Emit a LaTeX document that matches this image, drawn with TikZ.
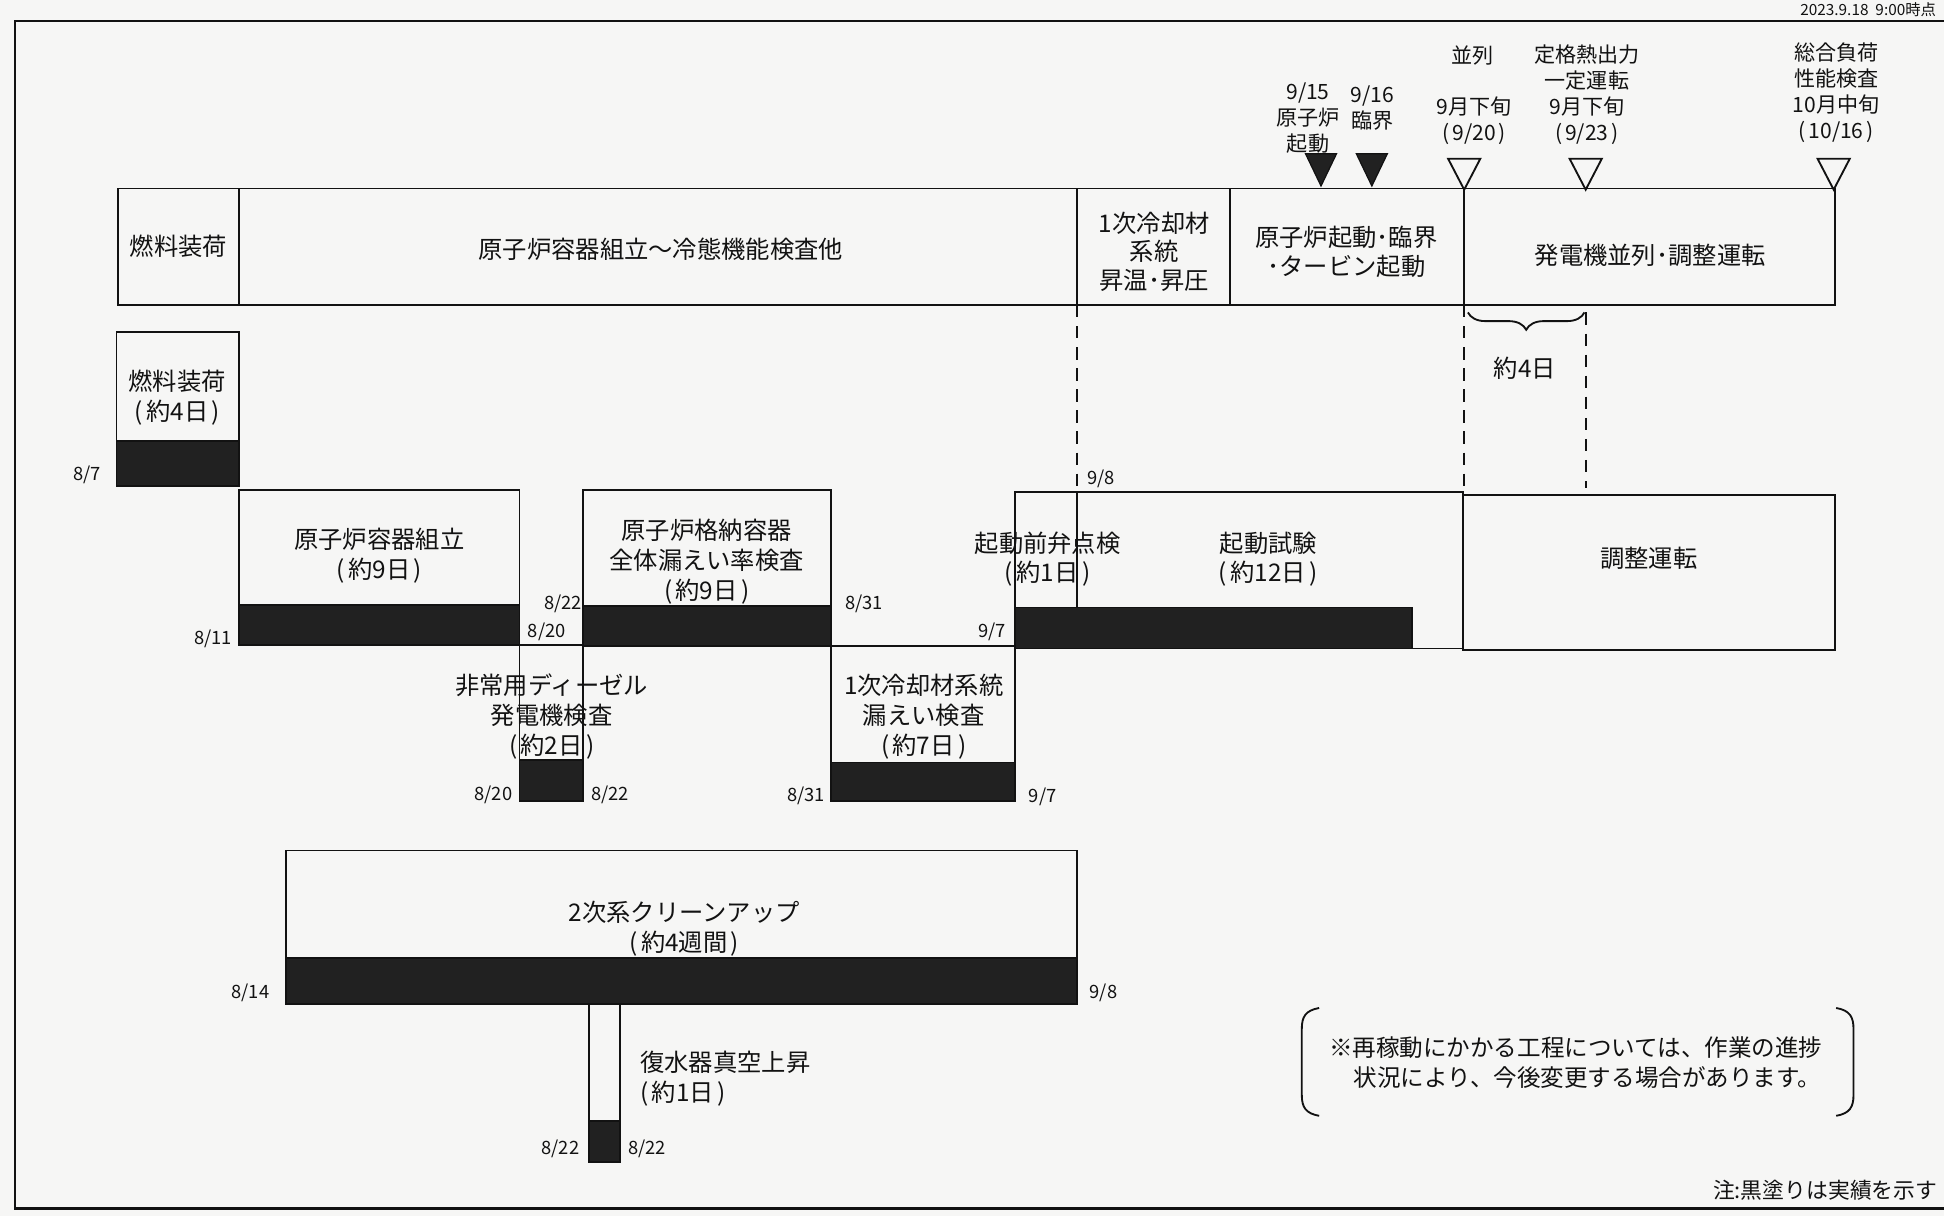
\documentclass[tikz,border=0pt]{standalone}
\usepackage{fontspec}
\setmainfont{Noto Sans CJK JP}
\usetikzlibrary{decorations.pathreplacing}
\definecolor{paper}{rgb}{0.965,0.965,0.962}
\definecolor{ink}{rgb}{0.07,0.07,0.07}
\definecolor{done}{rgb}{0.13,0.13,0.13}
\newcommand\myop{(\kern0.14em}
\newcommand\mycp{\kern0.14em)}
\tikzset{
  frameline/.style={draw=ink,line width=1.1pt},
  boxline/.style={draw=ink,line width=0.75pt},
  donebar/.style={fill=done,draw=ink,line width=0.75pt},
  lbl/.style={font=\fontsize{9.8}{12}\selectfont,align=center,inner sep=0pt,text=ink},
  datel/.style={font=\fontsize{7.4}{9}\selectfont,inner sep=0pt,text=ink},
  msl/.style={font=\fontsize{8.5}{10.5}\selectfont,align=center,inner sep=0pt,text=ink},
  dashl/.style={draw=ink,line width=0.75pt,dash pattern=on 5pt off 3.5pt},
  tridone/.style={fill=done,draw=ink,line width=0.5pt,line join=miter},
  triopen/.style={draw=ink,line width=0.75pt,line join=miter},
}
\begin{document}
\begin{tikzpicture}[x=0.5pt,y=-0.5pt]
\useasboundingbox[fill=paper] (0,0) rectangle (1568,981);

% frame
\draw[frameline] (1568,17) -- (12,17) -- (12,975) -- (1568,975);
\node[datel,font=\fontsize{6.2}{7}\selectfont,anchor=north east] (stamp) at (1562,1.5) {2023.9.18\ \ 9:00時点};

% milestone triangles
\draw[tridone] (1053,124) -- (1078,124) -- (1065.5,150) -- cycle;
\draw[tridone] (1094,124) -- (1119,124) -- (1106.5,150) -- cycle;
\draw[triopen] (1168,128) -- (1194,128) -- (1181,153) -- cycle;
\draw[triopen] (1266,128) -- (1292,128) -- (1279,153) -- cycle;
\draw[triopen] (1466,128) -- (1492,128) -- (1479,153) -- cycle;

% milestone labels
\node[msl] (m1) at (1055,95) {9/15\\原子炉\\起動};
\node[msl] (m2) at (1107,87) {9/16\\臨界};
\node[msl] (m3a) at (1188,45) {並列};
\node[msl] (m3b) at (1189,97.5) {9月下旬\\\myop 9/20\mycp};
\node[msl] (m4) at (1280,76.5) {定格熱出力\\一定運転\\9月下旬\\\myop 9/23\mycp};
\node[msl] (m5) at (1481,75) {総合負荷\\性能検査\\10月中旬\\\myop 10/16\mycp};

% top bar
\draw[boxline] (95,152) rectangle (1480,246);
\draw[boxline] (193,152) -- (193,246);
\draw[boxline] (869,152) -- (869,246);
\draw[boxline] (992,152) -- (992,246);
\draw[boxline] (1181,152) -- (1181,246);
\node[lbl] (t1) at (144,199) {燃料装荷};
\node[lbl] (t2) at (533,201) {原子炉容器組立～冷態機能検査他};
\node[lbl,font=\fontsize{9.8}{11.4}\selectfont] (t3) at (931,203) {1次冷却材\\系統\\昇温･昇圧};
\node[lbl,font=\fontsize{9.8}{11.6}\selectfont] (t4) at (1086,203) {原子炉起動･臨界\\･タービン起動};
\node[lbl] (t5) at (1331,206) {発電機並列･調整運転};

% dashed connectors and brace
\coordinate (da1) at (869,246); \coordinate (db1) at (869,397);
\coordinate (da2) at (1181,246); \coordinate (db2) at (1181,399);
\coordinate (da3) at (1279,252); \coordinate (db3) at (1279,394);
\draw[dashl] (da1) -- (db1);
\draw[dashl] (da2) -- (db2);
\draw[dashl] (da3) -- (db3);
\coordinate (br1) at (1184,252); \coordinate (br2) at (1278,252);
\draw[draw=ink,line width=0.75pt,decorate,decoration={brace,mirror,amplitude=7pt,aspect=0.5}] (br1) -- (br2);
\node[lbl] (four) at (1230,297) {約4日};

% fuel loading
\draw[boxline] (94,268) rectangle (193,392);
\draw[donebar] (94,356) rectangle (193,392);
\node[lbl] (b1) at (143,321) {燃料装荷\\\myop 約4日\mycp};
\node[datel] (d1) at (70,383) {8/7};

% reactor vessel assembly
\draw[boxline] (193,395) rectangle (419,520);
\draw[donebar] (193,488) rectangle (419,520);
\node[lbl] (b2) at (306,448) {原子炉容器組立\\\myop 約9日\mycp};
\node[datel] (d2) at (172,515) {8/11};

% diesel generator
\draw[boxline] (419,520) rectangle (470,646);
\draw[donebar] (419,613) rectangle (470,646);
\node[lbl] (b3) at (445,578) {非常用ディーゼル\\発電機検査\\\myop 約2日\mycp};
\node[datel] (d3a) at (398,641) {8/20};
\node[datel] (d3b) at (492,641) {8/22};
\node[datel] (d3c) at (454,487) {8/22};
\node[datel] (d3d) at (441,510) {8/20};

% containment leak rate
\draw[boxline] (470,395) rectangle (670,521);
\draw[donebar] (470,489) rectangle (670,521);
\node[lbl] (b4) at (570,453) {原子炉格納容器\\全体漏えい率検査\\\myop 約9日\mycp};
\node[datel] (d4) at (697,487) {8/31};

% primary coolant leak
\draw[boxline] (670,521) rectangle (819,646);
\draw[donebar] (670,615) rectangle (819,646);
\node[lbl] (b5) at (745,578) {1次冷却材系統\\漏えい検査\\\myop 約7日\mycp};
\node[datel] (d5a) at (650,642) {8/31};
\node[datel] (d5b) at (841,643) {9/7};
\node[datel] (d5c) at (800,510) {9/7};

% startup tests
\draw[boxline] (819,397) rectangle (1180,523);
\draw[donebar] (819,490) rectangle (1139,523);
\draw[boxline] (db1) -- (869,490);
\node[lbl] (b6) at (845,451) {起動前弁点検\\\myop 約1日\mycp};
\node[lbl] (b7) at (1023,451) {起動試験\\\myop 約12日\mycp};
\node[datel] (d6) at (888,386) {9/8};

% adjustment operation
\draw[boxline] (1180,399) rectangle (1480,524);
\node[lbl] (b8) at (1330,450) {調整運転};

% secondary cleanup
\draw[boxline] (231,686) rectangle (869,810);
\draw[donebar] (231,773) rectangle (869,810);
\node[lbl] (b9) at (552,749) {2次系クリーンアップ\\\myop 約4週間\mycp};
\node[datel] (d7a) at (202,801) {8/14};
\node[datel] (d7b) at (890,801) {9/8};

% condenser vacuum
\draw[boxline] (475,810) rectangle (500,937);
\draw[donebar] (475,904) rectangle (500,937);
\node[lbl,align=left,anchor=west] (b10) at (516,870) {復水器真空上昇\\\myop 約1日\mycp};
\node[datel] (d8a) at (452,927) {8/22};
\node[datel] (d8b) at (522,927) {8/22};

% note
\coordinate (nl1) at (1064,813); \coordinate (nl2) at (1064,900);
\coordinate (nr1) at (1481,813); \coordinate (nr2) at (1481,900);
\draw[boxline] (nl1) .. controls (1053,815) and (1050,820) .. (1050,830) -- (1050,883) .. controls (1050,893) and (1053,898) .. (nl2);
\draw[boxline] (nr1) .. controls (1492,815) and (1495,820) .. (1495,830) -- (1495,883) .. controls (1495,893) and (1492,898) .. (nr2);
\node[lbl,font=\fontsize{9.5}{12}\selectfont,align=left] (note) at (1271,857) {※再稼動にかかる工程については、作業の進捗\\\hspace{1.05em}状況により、今後変更する場合があります。};
\node[lbl,font=\fontsize{8.8}{11}\selectfont,anchor=east] (legend) at (1563,960) {注:黒塗りは実績を示す};
\end{tikzpicture}
\end{document}
